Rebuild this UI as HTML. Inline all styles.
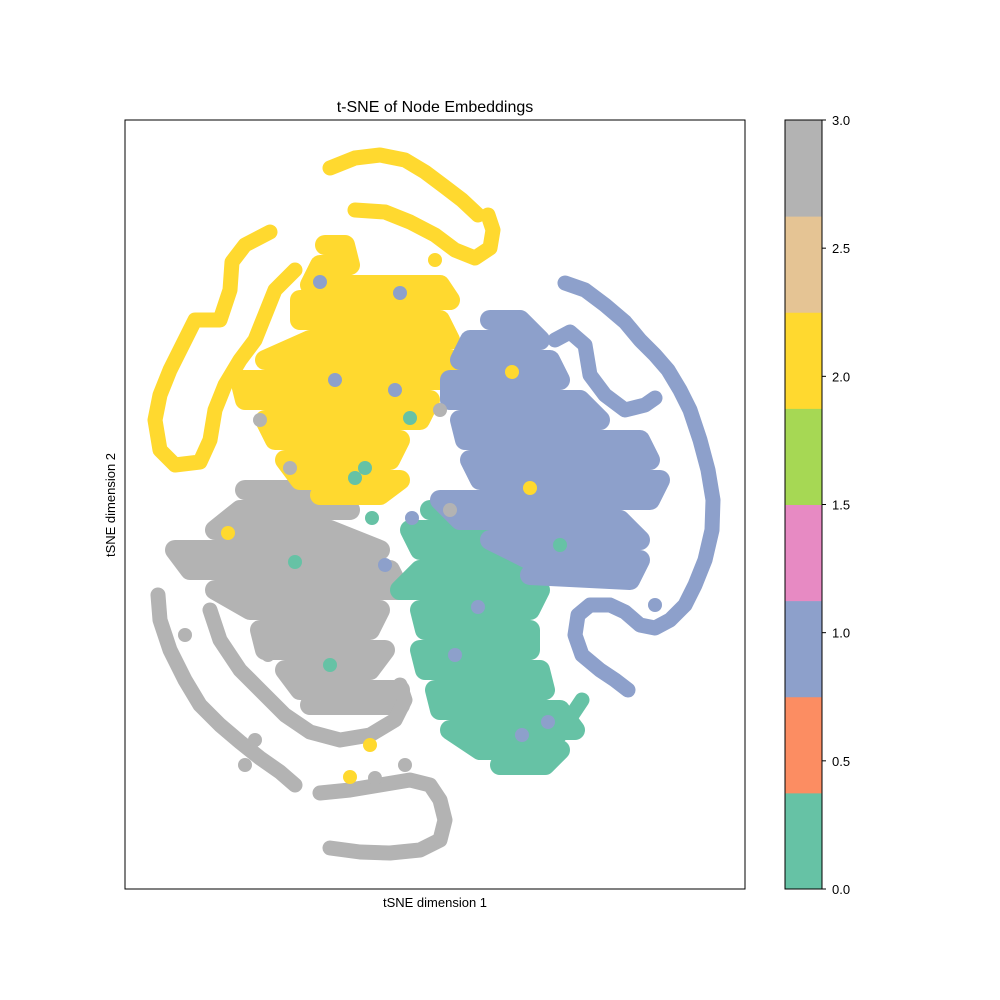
<!DOCTYPE html>
<html>
<head>
<meta charset="utf-8">
<style>
html,body{margin:0;padding:0;background:#fff;}
svg{display:block;font-family:"Liberation Sans","DejaVu Sans",sans-serif;}
</style>
</head>
<body>
<svg id="chart" width="1000" height="1000" viewBox="0 0 1000 1000">
  <rect x="0" y="0" width="1000" height="1000" fill="#fff"/>
  <text x="435" y="112" text-anchor="middle" font-size="16" fill="#000">t-SNE of Node Embeddings</text>
  <g id="plot"></g>
  <rect x="125" y="120" width="620" height="769" fill="none" stroke="#000" stroke-width="1"/>
  <text x="435" y="907" text-anchor="middle" font-size="13" fill="#000">tSNE dimension 1</text>
  <text x="115" y="505" text-anchor="middle" font-size="13" fill="#000" transform="rotate(-90 115 505)">tSNE dimension 2</text>
  <g id="cbar"></g>
</svg>
<script>
// Colorbar data
const cbarColors = ["#66c2a5","#fc8d62","#8da0cb","#e78ac3","#a6d854","#ffd92f","#e5c494","#b3b3b3"];
const cbarTicks = [0.0,0.5,1.0,1.5,2.0,2.5,3.0];
const cbarTickLabels = ["0.0","0.5","1.0","1.5","2.0","2.5","3.0"];
const classColors = ["#66c2a5","#8da0cb","#ffd92f","#b3b3b3"];
const classNames = ["class-0","class-1","class-2","class-3"];

// Strand data (tSNE units): class index per strand
const strandClass = [3,3,3,3, 2,2,2,2, 0,0, 1,1,1];
const strandWidth = [20,15,15,15, 20,15,15,15, 20,15, 20,15,15];
const strands = [
  [[24.5,51],[30,51],[35,49],[24,49],[21.5,47],[33,47],[38,45],[17.5,45],[19,43],[39,43],[40,41],[21.5,41],[25,39],[38,39],[37,37],[26,37],[26.5,35],[38.5,35],[37,33],[28.5,33],[30,31],[40,31],[40,29.5],[31,29.5]],
  [[15.8,40.5],[16,38],[17,35],[18.5,32],[20,29.5],[22,27.5],[24,25.8],[26,24.2],[28,22.8],[29.5,21.5]],
  [[21,39],[22,36],[24,33],[26,31],[28.5,28.5],[31,26.8],[34,26],[37,26.5],[39.5,28],[40.5,30],[40,31.5]],
  [[32,20.7],[35,21],[38,21.5],[41,22],[43,21.5],[44,20],[44.5,18],[44,16],[42,15],[39,14.7],[36,14.8],[33,15.2]],
  [[32.5,75.5],[34.5,75.5],[35,73.5],[32,73.5],[31,71.5],[44,71.5],[45,70],[30,70],[30,68],[44,68],[45,66],[31,66],[26.5,64],[46,64],[44,62],[24,62],[24.5,60],[43,60],[42,58],[26.5,58],[27.5,56],[40,56],[39,54],[28.5,54],[30,52],[40,52],[38,50.5],[32,50.5]],
  [[33,83.2],[35.5,84.2],[38,84.5],[40.5,84],[42.5,82.8],[44.5,81.3],[46.2,80],[47.8,78.5]],
  [[35.5,79],[38.5,78.8],[41,77.8],[43.5,76.5],[45.5,75],[47.5,74.2],[49,75.2],[49.3,77],[48.8,78.5]],
  [[27,76.8],[24.5,75.5],[23.2,73.8],[23,71],[22,68],[19.5,68],[18.5,66],[17,63],[16,60.5],[15.5,58],[16,55],[17.5,53.5],[20,53.8],[21,56],[21.5,59],[22.5,61.5],[24,64],[25.5,66],[26.5,68.5],[27.5,71],[29.5,73]],
  [[43,49],[46,49],[48,47],[41,47],[42,45],[53,45],[52.5,43],[42,43],[40,41],[54,41],[53,39],[42,39],[42.5,37],[53,37],[53,35],[42,35],[42.5,33],[54,33],[54.5,31],[43.5,31],[44,29],[56,29],[57.5,27],[45,27],[48,25],[56,25],[54.5,23.5],[50,23.5]],
  [[54,24],[56,26.5],[57.2,28.5],[58.2,30]],
  [[49,68],[52,68],[54,66],[47,66],[46,64],[55,64],[56,62],[45,62],[45,60],[58,60],[60,58],[46,58],[46.5,56],[64,56],[65,54],[47,54],[48,52],[66,52],[65,50],[44,50],[46,48],[62,48],[64,46],[49,46],[53,44],[64,44],[63,42],[53,42.5]],
  [[56.5,71.7],[58.5,71],[60.5,69.5],[62.5,67.8],[64,66],[65.5,64.5],[66.8,63],[68,61],[69,59],[70,56],[70.8,53],[71.3,50],[71.2,47],[70.5,44],[69.5,41.5],[68.5,39.5],[67,38],[65.5,37.2],[64,37.5],[62.5,38.8],[61,39.5],[59,39.5],[57.8,38.5],[57.5,36.5],[58.2,34.5],[60,33],[61.5,32],[62.8,31]],
  [[55.5,66],[57,66.8],[58.5,65.5],[59,62.5],[60.5,60.5],[62.5,59],[64.5,59.5],[65.5,60.2]]
];

// Individual scattered points
const pointX = [51.2,53,22.8,35,37,43.5, 40,33.5,39.5,32,45.5,47.8,54.8,52.2,65.5,38.5,41.2, 41,36.5,37.2,35.5,56,29.5,33, 25.5,24.5,40.5,37.5,45,44,26,29,18.5,26.8];
const pointY = [62.8,51.2,46.7,22.3,25.5,74, 70.7,62,61,71.8,34.5,39.3,27.8,26.5,39.5,43.5,48.2, 58.2,53.2,48.2,52.2,45.5,43.8,33.5, 26,23.5,23.5,22.2,49,59,58,53.2,36.5,34.5];
const pointClass = [2,2,2,2,2,2, 1,1,1,1,1,1,1,1,1,1,1, 0,0,0,0,0,0,0, 3,3,3,3,3,3,3,3,3,3];

const xMin = 12.5, xMax = 74.5, yMin = 11.1, yMax = 88.0;
function xs(v){ return 125 + (v - xMin) / (xMax - xMin) * 620; }
function ys(v){ return 889 - (v - yMin) / (yMax - yMin) * 769; }

const NS = "http://www.w3.org/2000/svg";
const plot = document.getElementById("plot");
const order = [3,2,0,1];
order.forEach(function(c){
  strands.forEach(function(s, i){
    if (strandClass[i] !== c) return;
    const p = document.createElementNS(NS, "path");
    let d = "";
    s.forEach(function(pt, j){ d += (j ? "L" : "M") + xs(pt[0]).toFixed(1) + " " + ys(pt[1]).toFixed(1); });
    p.setAttribute("d", d);
    p.setAttribute("fill", "none");
    p.setAttribute("stroke", classColors[c]);
    p.setAttribute("stroke-width", strandWidth[i]);
    p.setAttribute("stroke-linecap", "round");
    p.setAttribute("stroke-linejoin", "round");
    
    
    plot.appendChild(p);
  });
});
pointX.forEach(function(v, i){
  const c = document.createElementNS(NS, "circle");
  c.setAttribute("cx", xs(v));
  c.setAttribute("cy", ys(pointY[i]));
  c.setAttribute("r", 7);
  c.setAttribute("fill", classColors[pointClass[i]]);
  
  
  plot.appendChild(c);
});

// Colorbar
const cb = document.getElementById("cbar");
const cbTop = 120, cbBot = 889, cbX = 785, cbW = 37;
function cs(v){ return cbBot - (v - 0) / 3 * (cbBot - cbTop); }
const segH = (cbBot - cbTop) / cbarColors.length;
cbarColors.forEach(function(col, i){
  const r = document.createElementNS(NS, "rect");
  r.setAttribute("x", cbX);
  r.setAttribute("y", cbBot - (i + 1) * segH);
  r.setAttribute("width", cbW);
  r.setAttribute("height", segH + 0.5);
  r.setAttribute("fill", col);
  
  
  cb.appendChild(r);
});
const frame = document.createElementNS(NS, "rect");
frame.setAttribute("x", cbX); frame.setAttribute("y", cbTop);
frame.setAttribute("width", cbW); frame.setAttribute("height", cbBot - cbTop);
frame.setAttribute("fill", "none"); frame.setAttribute("stroke", "#000");


cb.appendChild(frame);
cbarTicks.forEach(function(t, i){
  const y = cs(t);
  const l = document.createElementNS(NS, "line");
  l.setAttribute("x1", cbX + cbW); l.setAttribute("x2", cbX + cbW + 4);
  l.setAttribute("y1", y); l.setAttribute("y2", y);
  l.setAttribute("stroke", "#000");
  
  
  cb.appendChild(l);
  const tx = document.createElementNS(NS, "text");
  tx.setAttribute("x", cbX + cbW + 10);
  tx.setAttribute("y", y + 5);
  tx.setAttribute("font-size", "13");
  tx.textContent = cbarTickLabels[i];
  
  
  cb.appendChild(tx);
});
</script>
</body>
</html>
